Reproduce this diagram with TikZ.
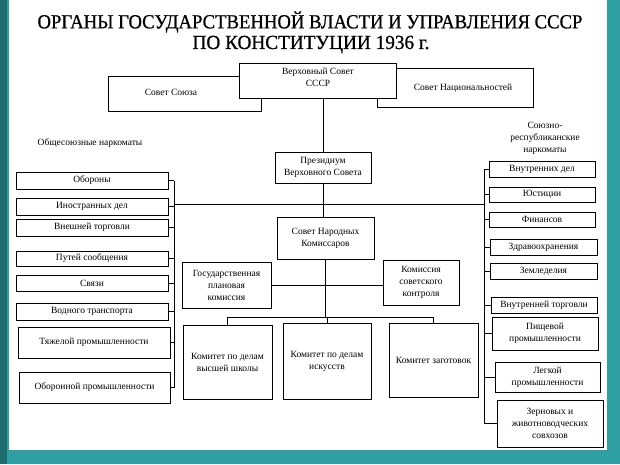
\documentclass[tikz,border=0pt]{standalone}
\usepackage{fontspec}
\setmainfont{Liberation Serif}
\newfontfamily\ttlfam[FakeBold=0.8]{Liberation Serif}
\usepackage{graphicx}
\definecolor{tealbg}{HTML}{2E9FA2}
\definecolor{tealdk}{HTML}{1E6E70}
\newcommand\bxfont{\fontsize{9.5}{12}\selectfont}
\newcommand\ttlfont{\ttlfam\fontsize{20}{24}\selectfont}
\begin{document}
\begin{tikzpicture}[x=1pt,y=-1pt,
  bx/.style={draw, fill=white, line width=0.8pt, align=center, inner sep=1pt, font=\bxfont},
  txt/.style={align=center, inner sep=0pt, font=\bxfont},
  ln/.style={line width=0.8pt}]
\useasboundingbox (0,0) rectangle (620,464);
\fill[tealbg] (0,0) rectangle (620,464);
\fill[tealdk] (0,0) rectangle (7,464);
\fill[white] (9,0) rectangle (607,450);

% title
\node[inner sep=0pt, font=\ttlfont] (title1) at (310,22) {\resizebox{545pt}{\height}{ОРГАНЫ ГОСУДАРСТВЕННОЙ ВЛАСТИ И УПРАВЛЕНИЯ СССР}};
\node[inner sep=0pt, font=\ttlfont] (title2) at (311,44.5) {\resizebox{237pt}{\height}{ПО КОНСТИТУЦИИ 1936 г.}};

% top level
\node[bx, minimum width=153pt, minimum height=35pt] (soyuz) at (184.5,93.5) {};
\node[txt] (soyuzt) at (171,92) {Совет Союза};
\node[bx, minimum width=156pt, minimum height=39pt] (nacs) at (455,87.5) {};
\node[txt] (nacst) at (463,88) {Совет Национальностей};
\node[bx, minimum width=157pt, minimum height=35pt] (verkh) at (317.5,80.5) {};
\node[txt] (verkht) at (318,77) {Верховный Совет\\СССР};

\node[bx, minimum width=96pt, minimum height=31pt] (prez) at (323,167.5) {Президиум\\Верховного Совета};
\node[bx, minimum width=97pt, minimum height=42pt] (snk) at (325.5,238) {Совет Народных\\Комиссаров};

\node[bx, minimum width=89pt, minimum height=46pt] (gosplan) at (226.5,285) {Государственная\\плановая\\комиссия};
\node[bx, minimum width=76pt, minimum height=45pt] (kontrol) at (421,282.5) {Комиссия\\советского\\контроля};

\node[bx, minimum width=89pt, minimum height=74pt] (kvsh) at (227.5,362) {Комитет по делам\\высшей школы};
\node[bx, minimum width=88pt, minimum height=76pt] (kisk) at (327,361) {Комитет по делам\\искусств};
\node[bx, minimum width=89pt, minimum height=74pt] (kzag) at (433.5,360) {Комитет заготовок};

% left column
\node[txt] (lefthead) at (90,143) {Общесоюзные наркоматы};
\node[bx, minimum width=152pt, minimum height=17pt] (l1) at (92,180.5) {Обороны};
\node[bx, minimum width=152pt, minimum height=17pt] (l2) at (92,206.5) {Иностранных дел};
\node[bx, minimum width=152pt, minimum height=17pt] (l3) at (92,227.5) {Внешней торговли};
\node[bx, minimum width=152pt, minimum height=15pt] (l4) at (92,258.5) {Путей сообщения};
\node[bx, minimum width=152pt, minimum height=16pt] (l5) at (92,283) {Связи};
\node[bx, minimum width=152pt, minimum height=17pt] (l6) at (92,311.5) {Водного транспорта};
\node[bx, minimum width=152pt, minimum height=31pt] (l7) at (94,342.5) {Тяжелой промышленности};
\node[bx, minimum width=151pt, minimum height=31pt] (l8) at (94.5,387.5) {Оборонной промышленности};

% right column
\node[txt] (righthead) at (545,138) {Союзно-\\республиканские\\наркоматы};
\node[bx, minimum width=106pt, minimum height=16pt] (r1) at (542,169) {Внутренних дел};
\node[bx, minimum width=106pt, minimum height=15pt] (r2) at (542,194.5) {Юстиции};
\node[bx, minimum width=106pt, minimum height=15pt] (r3) at (542,219.5) {Финансов};
\node[bx, minimum width=107pt, minimum height=16pt] (r4) at (543.5,247) {Здравоохранения};
\node[bx, minimum width=107pt, minimum height=16pt] (r5) at (543.5,271) {Земледелия};
\node[bx, minimum width=106pt, minimum height=16pt] (r6) at (544,305) {Внутренней торговли};
\node[bx, minimum width=106pt, minimum height=33pt] (r7) at (545,333.5) {Пищевой\\промышленности};
\node[bx, minimum width=105pt, minimum height=30pt] (r8) at (547.5,377) {Легкой\\промышленности};
\node[bx, minimum width=106pt, minimum height=47pt] (r9) at (550,423.5) {Зерновых и\\животноводческих\\совхозов};

% buses
\coordinate (lbtop) at (174,180.5);
\coordinate (lbbot) at (174,387.5);
\coordinate (rbtop) at (484,169);
\coordinate (rbbot) at (484,423.5);
\coordinate (hl) at (174,204);
\coordinate (hr) at (484,204);
\coordinate (bbl) at (227.5,317);
\coordinate (bbr) at (433.5,317);
\coordinate (bbm) at (325.5,317);

\draw[ln] (verkh.south -| prez.north) -- (prez.north);
\draw[ln] (prez.south) -- (prez.south |- snk.north);
\draw[ln] (lbtop) -- (lbbot);
\draw[ln] (rbtop) -- (rbbot);
\draw[ln] (hl) -- (hr);
\foreach \n in {l1,l2,l3,l4,l5,l6,l7,l8} \draw[ln] (\n.east) -- (\n.east -| lbtop);
\foreach \n in {r1,r2,r3,r4,r5,r6,r7,r8,r9} \draw[ln] (\n.west) -- (\n.west -| rbtop);
\draw[ln] (snk.south) -- (bbm);
\draw[ln] (gosplan.east) -- (gosplan.east -| kontrol.west);
\draw[ln] (bbl) -- (bbr);
\draw[ln] (bbl) -- (kvsh.north);
\draw[ln] (bbm -| kisk.north) -- (kisk.north);
\draw[ln] (bbr) -- (kzag.north);
\end{tikzpicture}
\end{document}
